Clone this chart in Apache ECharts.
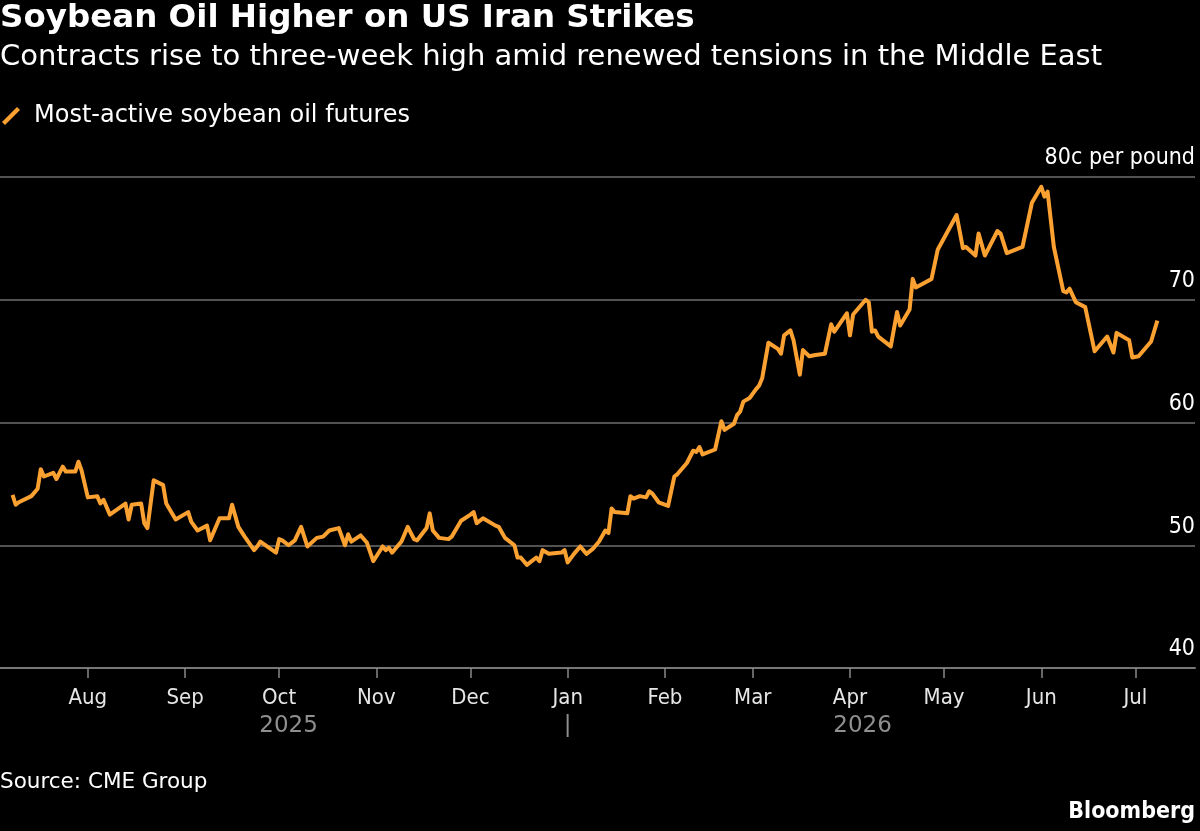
<!DOCTYPE html>
<html>
<head>
<meta charset="utf-8">
<script src="https://cdn.jsdelivr.net/npm/echarts@6.0.0/dist/echarts.min.js"></script>
<style>
  html, body { margin: 0; padding: 0; background: #000; }
  #main { width: 1200px; height: 831px; }
</style>
</head>
<body>
<div id="main"></div>
<script>
// most-active soybean oil futures, c per pound
const dates = [
  '2025-07-08', '2025-07-09', '2025-07-10', '2025-07-14', '2025-07-16', '2025-07-17', '2025-07-18',
  '2025-07-21', '2025-07-22', '2025-07-24', '2025-07-25', '2025-07-28', '2025-07-29', '2025-07-30',
  '2025-08-01', '2025-08-04', '2025-08-05', '2025-08-06', '2025-08-08', '2025-08-13', '2025-08-14',
  '2025-08-15', '2025-08-18', '2025-08-19', '2025-08-20', '2025-08-22', '2025-08-25', '2025-08-26',
  '2025-08-29', '2025-09-02', '2025-09-03', '2025-09-05', '2025-09-08', '2025-09-09', '2025-09-12',
  '2025-09-15', '2025-09-16', '2025-09-18', '2025-09-20', '2025-09-23', '2025-09-24', '2025-09-25',
  '2025-09-30', '2025-10-01', '2025-10-02', '2025-10-04', '2025-10-06', '2025-10-08', '2025-10-10',
  '2025-10-13', '2025-10-15', '2025-10-17', '2025-10-20', '2025-10-22', '2025-10-23', '2025-10-24',
  '2025-10-27', '2025-10-29', '2025-10-31', '2025-11-03', '2025-11-04', '2025-11-05', '2025-11-06',
  '2025-11-09', '2025-11-11', '2025-11-13', '2025-11-14', '2025-11-17', '2025-11-18', '2025-11-19',
  '2025-11-21', '2025-11-24', '2025-11-25', '2025-11-28', '2025-12-01', '2025-12-02', '2025-12-03',
  '2025-12-05', '2025-12-09', '2025-12-10', '2025-12-12', '2025-12-15', '2025-12-16', '2025-12-17',
  '2025-12-19', '2025-12-22', '2025-12-23', '2025-12-24', '2025-12-26', '2025-12-30', '2025-12-31',
  '2026-01-01', '2026-01-03', '2026-01-05', '2026-01-07', '2026-01-09', '2026-01-11', '2026-01-13',
  '2026-01-14', '2026-01-15', '2026-01-16', '2026-01-20', '2026-01-21', '2026-01-22', '2026-01-24',
  '2026-01-26', '2026-01-27', '2026-01-28', '2026-01-30', '2026-02-02', '2026-02-04', '2026-02-05',
  '2026-02-08', '2026-02-10', '2026-02-11', '2026-02-12', '2026-02-13', '2026-02-17', '2026-02-19',
  '2026-02-20', '2026-02-23', '2026-02-24', '2026-02-25', '2026-02-26', '2026-02-28', '2026-03-02',
  '2026-03-03', '2026-03-04', '2026-03-06', '2026-03-09', '2026-03-10', '2026-03-11', '2026-03-13',
  '2026-03-14', '2026-03-16', '2026-03-17', '2026-03-19', '2026-03-21', '2026-03-24', '2026-03-26',
  '2026-03-27', '2026-03-31', '2026-04-01', '2026-04-02', '2026-04-06', '2026-04-07', '2026-04-08',
  '2026-04-09', '2026-04-10', '2026-04-14', '2026-04-16', '2026-04-17', '2026-04-20', '2026-04-21',
  '2026-04-22', '2026-04-27', '2026-04-29', '2026-05-05', '2026-05-07', '2026-05-08', '2026-05-11',
  '2026-05-12', '2026-05-14', '2026-05-18', '2026-05-19', '2026-05-21', '2026-05-26', '2026-05-29',
  '2026-06-01', '2026-06-02', '2026-06-03', '2026-06-05', '2026-06-08', '2026-06-09', '2026-06-10',
  '2026-06-12', '2026-06-15', '2026-06-18', '2026-06-22', '2026-06-24', '2026-06-25', '2026-06-29',
  '2026-06-30', '2026-07-02', '2026-07-06', '2026-07-08'
];
const prices = [
  54.1, 53.3, 53.5, 54.0, 54.6, 56.2, 55.6,
  55.9, 55.4, 56.4, 56.0, 56.0, 56.8, 56.1,
  53.9, 54.0, 53.4, 53.7, 52.5, 53.4, 52.1,
  53.3, 53.4, 51.8, 51.4, 55.3, 54.9, 53.4,
  52.1, 52.7, 51.9, 51.2, 51.6, 50.4, 52.2,
  52.2, 53.3, 51.5, 50.7, 49.6, 49.9, 50.3,
  49.4, 50.5, 50.4, 50.0, 50.4, 51.5, 49.9,
  50.6, 50.7, 51.2, 51.4, 50.0, 50.9, 50.3,
  50.8, 50.2, 48.7, 49.9, 49.6, 49.8, 49.4,
  50.3, 51.5, 50.5, 50.4, 51.4, 52.6, 51.2,
  50.6, 50.5, 50.7, 52.0, 52.5, 52.7, 51.8,
  52.2, 51.6, 51.5, 50.6, 50.0, 49.0, 49.0,
  48.4, 49.0, 48.7, 49.6, 49.3, 49.4, 49.6,
  48.6, 49.3, 49.9, 49.3, 49.7, 50.3, 51.2,
  51.0, 53.0, 52.7, 52.6, 54.0, 53.8, 54.0,
  53.9, 54.4, 54.2, 53.5, 53.2, 55.6, 55.8,
  56.7, 57.7, 57.6, 58.0, 57.4, 57.8, 60.1,
  59.4, 59.9, 60.6, 60.9, 61.7, 62.0, 62.7,
  63.0, 63.6, 66.5, 66.0, 65.6, 67.1, 67.5,
  66.7, 63.9, 65.9, 65.4, 65.5, 65.6, 68.0,
  67.4, 68.9, 67.1, 68.8, 70.0, 69.8, 67.4,
  67.5, 67.0, 66.2, 69.0, 67.9, 69.2, 71.7,
  71.0, 71.7, 74.1, 76.9, 74.2, 74.3, 73.6,
  75.4, 73.6, 75.6, 75.4, 73.8, 74.3, 77.9,
  79.2, 78.4, 78.8, 74.3, 70.7, 70.6, 70.9,
  69.8, 69.4, 65.8, 67.0, 65.7, 67.3, 66.7,
  65.3, 65.4, 66.6, 68.3
];

const monthTicks = [
  '2025-08-01', '2025-09-01', '2025-10-01', '2025-11-01', '2025-12-01', '2026-01-01',
  '2026-02-01', '2026-03-01', '2026-04-01', '2026-05-01', '2026-06-01', '2026-07-01'
];
const monthLabels = ['Aug', 'Sep', 'Oct', 'Nov', 'Dec', 'Jan', 'Feb', 'Mar', 'Apr', 'May', 'Jun', 'Jul'];
const yearTicks = ['2025-10-04', '2026-01-01', '2026-04-05'];
const yearLabels = ['2025', '|', '2026'];
const axisStart = '2025-07-04';
const axisEnd = '2026-07-20';
const yTicks = [40, 50, 60, 70, 80];

const FONT = "'DejaVu Sans', sans-serif";
const FONT_NARROW = "'DejaVu Sans Condensed', 'DejaVu Sans', sans-serif";
const ORANGE = '#fba132';

const ts = s => echarts.time.parse(s).getTime();
const monthTs = monthTicks.map(ts);
const yearTs = yearTicks.map(ts);

const chart = echarts.init(document.getElementById('main'));

const option = {
  backgroundColor: '#000',
  animation: false,
  textStyle: { fontFamily: FONT },
  title: [
    {
      text: 'Soybean Oil Higher on US Iran Strikes',
      left: 0, top: 2, padding: 0,
      textStyle: { fontFamily: FONT, fontSize: 32.5, fontWeight: 'bold', color: '#fff' }
    },
    {
      text: 'Contracts rise to three-week high amid renewed tensions in the Middle East',
      left: 0, top: 43, padding: 0,
      textStyle: { fontFamily: FONT, fontSize: 29, fontWeight: 'normal', color: '#fff' }
    },
    {
      text: 'Source: CME Group',
      left: 0, top: 771, padding: 0,
      textStyle: { fontFamily: FONT, fontSize: 21.5, fontWeight: 'normal', color: '#fff' }
    },
    {
      text: 'Bloomberg',
      right: 5, top: 801, padding: 0,
      textStyle: { fontFamily: FONT_NARROW, fontSize: 23, fontWeight: 'bold', color: '#fff' }
    }
  ],
  legend: {
    left: 2, top: 104, padding: 0,
    itemWidth: 18, itemHeight: 18,
    icon: 'path://M0,15 L15,0 L18,3 L3,18 Z',
    textStyle: { fontFamily: FONT, fontSize: 24, color: '#fff', padding: [0, 0, 0, 9] },
    data: ['Most-active soybean oil futures']
  },
  grid: { left: 0, right: 5, top: 177, bottom: 163, containLabel: false },
  xAxis: [
    {
      type: 'value',
      min: ts(axisStart),
      max: ts(axisEnd),
      position: 'bottom',
      axisLine: { show: true, onZero: false, lineStyle: { color: '#777', width: 2 } },
      axisTick: {
        show: true, length: 10, customValues: monthTs,
        lineStyle: { color: '#888', width: 1.5 }
      },
      axisLabel: {
        customValues: monthTs,
        margin: 19,
        fontFamily: FONT_NARROW, fontSize: 22, color: '#e6e6e6',
        formatter: v => monthLabels[monthTs.indexOf(v)]
      },
      splitLine: { show: false }
    },
    {
      type: 'value',
      min: ts(axisStart),
      max: ts(axisEnd),
      position: 'bottom',
      axisLine: { show: false, onZero: false },
      axisTick: { show: false },
      axisLabel: {
        customValues: yearTs,
        margin: 47,
        fontFamily: FONT, fontSize: 23, color: '#8f8f8f',
        formatter: v => yearLabels[yearTs.indexOf(v)]
      },
      splitLine: { show: false }
    }
  ],
  yAxis: {
    type: 'value',
    position: 'right',
    min: 40, max: 80, interval: 10,
    axisLine: { show: false },
    axisTick: { show: false },
    splitLine: { show: true, lineStyle: { color: '#6e6e6e', width: 1.5 } },
    axisLabel: {
      inside: true, margin: 0,
      verticalAlign: 'bottom',
      padding: [0, 0, 7, 0],
      fontFamily: FONT_NARROW, fontSize: 23, color: '#fff',
      formatter: v => (v === yTicks[yTicks.length - 1] ? v + 'c per pound' : String(v))
    }
  },
  series: [
    {
      name: 'Most-active soybean oil futures',
      type: 'line',
      xAxisIndex: 0,
      data: dates.map((d, i) => [ts(d), prices[i]]),
      showSymbol: false,
      symbol: 'none',
      color: ORANGE,
      lineStyle: { color: ORANGE, width: 4, join: 'round' }
    }
  ]
};

chart.setOption(option);
</script>
</body>
</html>
